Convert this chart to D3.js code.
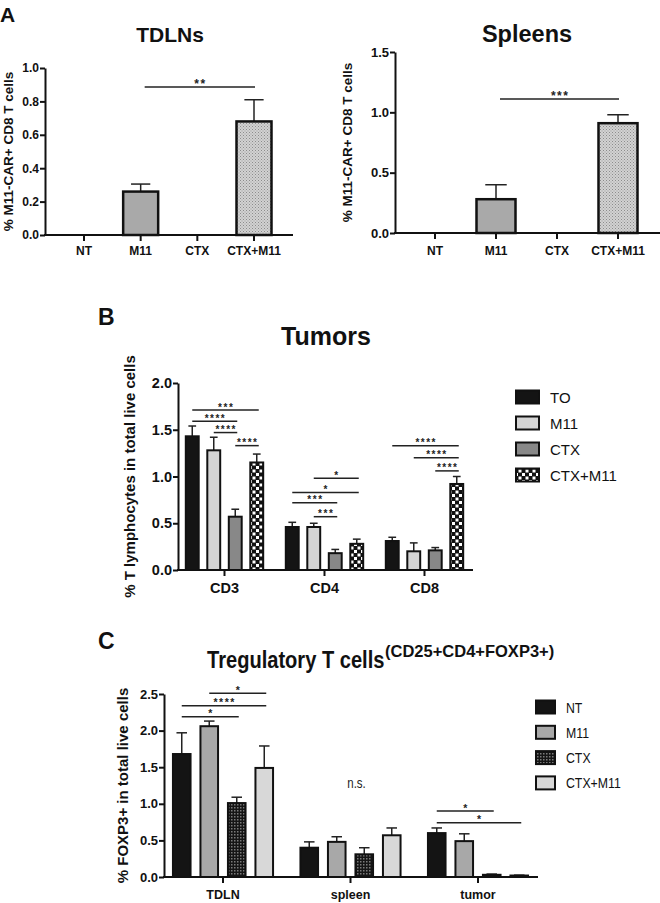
<!DOCTYPE html>
<html>
<head>
<meta charset="utf-8">
<script src="https://cdn.jsdelivr.net/npm/d3@7/dist/d3.min.js"></script>
<style>
  body { margin: 0; background: #fff; }
  svg { display: block; font-family: "Liberation Sans", Arial, sans-serif; }
  .axis path, .axis line { stroke: #111; stroke-width: 2px; }
  .axis text { font-weight: bold; fill: #111; }
</style>
</head>
<body>
<svg id="fig" width="660" height="903"></svg>
<script>
//////////////////////////////////////////////
// Data //////////////////////////////////////
//////////////////////////////////////////////

// panel A - CAR T cells in TDLNs and spleens
var groupsA = ["NT", "M11", "CTX", "CTX+M11"];
var tdlnMean = [0, 0.26, 0, 0.68];
var tdlnSem = [0, 0.045, 0, 0.13];
var spleenMean = [0, 0.28, 0, 0.91];
var spleenSem = [0, 0.12, 0, 0.07];
var ticksTdln = [0, 0.2, 0.4, 0.6, 0.8, 1.0];
var ticksSpleen = [0, 0.5, 1.0, 1.5];
// [from group, to group, height, label]
var sigTdln = [[1, 3, 0.886, "**"]];
var sigSpleen = [[1, 3, 1.11, "***"]];

// panel B - tumors
var catsB = ["CD3", "CD4", "CD8"];
var seriesB = ["TO", "M11", "CTX", "CTX+M11"];
var valuesB = [
  [1.43, 0.46, 0.31],   // TO
  [1.28, 0.46, 0.20],   // M11
  [0.57, 0.18, 0.21],   // CTX
  [1.15, 0.28, 0.92]    // CTX+M11
];
var semB = [
  [0.11, 0.05, 0.04],
  [0.14, 0.04, 0.09],
  [0.08, 0.04, 0.03],
  [0.09, 0.05, 0.08]
];
var ticksB = [0, 0.5, 1.0, 1.5, 2.0];
// [category, from series, to series, height, label]
var sigB = [
  [0, 0, 3, 1.71, "***"], [0, 0, 2, 1.59, "****"], [0, 1, 2, 1.47, "****"], [0, 2, 3, 1.33, "****"],
  [1, 1, 3, 0.98, "*"], [1, 0, 3, 0.83, "*"], [1, 0, 2, 0.72, "***"], [1, 1, 2, 0.57, "***"],
  [2, 0, 3, 1.33, "****"], [2, 1, 3, 1.20, "****"], [2, 2, 3, 1.06, "****"]
];

// panel C - Tregs
var catsC = ["TDLN", "spleen", "tumor"];
var seriesC = ["NT", "M11", "CTX", "CTX+M11"];
var valuesC = [
  [1.68, 0.40, 0.60],   // NT
  [2.06, 0.48, 0.49],   // M11
  [1.01, 0.31, 0.03],   // CTX
  [1.49, 0.57, 0.02]    // CTX+M11
];
var semC = [
  [0.29, 0.08, 0.07],
  [0.07, 0.07, 0.10],
  [0.08, 0.09, 0.01],
  [0.30, 0.10, 0.005]
];
var ticksC = [0, 0.5, 1.0, 1.5, 2.0, 2.5];
var sigC = [
  [0, 1, 3, 2.51, "*"], [0, 0, 3, 2.34, "****"], [0, 0, 2, 2.19, "*"],
  [2, 0, 2, 0.90, "*"], [2, 0, 3, 0.74, "*"]
];
var nsC = [1, 1.22, "n.s."];

//////////////////////////////////////////////
// Setup /////////////////////////////////////
//////////////////////////////////////////////
var svg = d3.select("#fig");
var fmt = d3.format(".1f");
var defs = svg.append("defs");

// fine dotted grey (A, CTX+M11)
var p1 = defs.append("pattern").attr("id", "dots").attr("patternUnits", "userSpaceOnUse")
  .attr("width", 3).attr("height", 3);
p1.append("rect").attr("width", 3).attr("height", 3).attr("fill", "#d2d2d2");
p1.append("rect").attr("width", 1).attr("height", 1).attr("fill", "#8c8c8c");
p1.append("rect").attr("x", 1.5).attr("y", 1.5).attr("width", 1).attr("height", 1).attr("fill", "#9a9a9a");

// checker (B, CTX+M11)
var p2 = defs.append("pattern").attr("id", "checker").attr("patternUnits", "userSpaceOnUse")
  .attr("width", 7).attr("height", 7);
p2.append("rect").attr("width", 7).attr("height", 7).attr("fill", "#111");
p2.append("rect").attr("x", 0.5).attr("y", 0.5).attr("width", 3).attr("height", 3).attr("fill", "#fff");
p2.append("rect").attr("x", 4).attr("y", 4).attr("width", 3).attr("height", 3).attr("fill", "#fff");

// dark dotted (C, CTX)
var p3 = defs.append("pattern").attr("id", "darkdots").attr("patternUnits", "userSpaceOnUse")
  .attr("width", 3).attr("height", 3);
p3.append("rect").attr("width", 3).attr("height", 3).attr("fill", "#151515");
p3.append("rect").attr("width", 1.5).attr("height", 1.5).attr("fill", "#7a7a7a");

var fillsA = ["#a9a9a9", "#a9a9a9", "#a9a9a9", "url(#dots)"];
var fillsB = ["#141414", "#d4d4d4", "#888888", "url(#checker)"];
var fillsC = ["#141414", "#a8a8a8", "url(#darkdots)", "#d8d8d8"];

//////////////////////////////////////////////
// Helpers ///////////////////////////////////
//////////////////////////////////////////////
// no narrow font installed, squeeze the glyphs horizontally instead
function narrow(sel, f) {
  sel.each(function() {
    var t = d3.select(this), x = +t.attr("x"), y = +t.attr("y");
    t.attr("x", 0).attr("y", 0)
      .attr("transform", "translate(" + x + "," + y + ") scale(" + f + ",1)");
  });
  return sel;
}

function yAxis(g, y, ticks, size) {
  var ax = g.append("g").attr("class", "axis")
    .attr("transform", "translate(" + y.axisX + ",0)")
    .call(d3.axisLeft(y).tickValues(ticks).tickFormat(fmt).tickSize(5).tickSizeOuter(0).tickPadding(1));
  ax.selectAll("text").style("font-size", size + "px");
  return ax;
}

function xAxis(g, x, y, xEnd, size, baseline) {
  var y0 = y(0);
  g.append("line").attr("x1", y.axisX - 1).attr("x2", xEnd).attr("y1", y0).attr("y2", y0)
    .attr("stroke", "#111").attr("stroke-width", 2);
  x.domain().forEach(function(d) {
    g.append("line").attr("x1", x(d)).attr("x2", x(d)).attr("y1", y0).attr("y2", y0 + 6)
      .attr("stroke", "#111").attr("stroke-width", 2);
    g.append("text").attr("x", x(d)).attr("y", baseline)
      .attr("text-anchor", "middle").attr("font-weight", "bold").attr("font-size", size)
      .attr("fill", "#111").text(d);
  });
}

function bar(g, cx, w, y, v, sem, fill, sw, capW) {
  if (v <= 0) return;
  var top = y(v), errTop = y(v + sem);
  g.append("line").attr("x1", cx).attr("x2", cx).attr("y1", top).attr("y2", errTop)
    .attr("stroke", "#222").attr("stroke-width", 1.5);
  g.append("line").attr("x1", cx - capW / 2).attr("x2", cx + capW / 2).attr("y1", errTop).attr("y2", errTop)
    .attr("stroke", "#222").attr("stroke-width", 1.5);
  g.append("rect").attr("x", cx - w / 2).attr("y", top)
    .attr("width", w).attr("height", y(0) - top)
    .attr("fill", fill).attr("stroke", "#111").attr("stroke-width", sw);
}

// stars kept small (they stack tightly), spaced out to keep their width
function bracket(g, xa, xb, yv, label, size) {
  g.append("line").attr("x1", xa).attr("x2", xb).attr("y1", yv).attr("y2", yv)
    .attr("stroke", "#222").attr("stroke-width", 1.5);
  g.append("text").attr("x", (xa + xb) / 2 + 0.7).attr("y", yv + 0.5).attr("text-anchor", "middle")
    .attr("font-size", size).attr("letter-spacing", 1.5).attr("font-weight", "bold")
    .attr("fill", "#222").text(label);
}

function yLabel(g, x, yc, text, size) {
  g.append("text")
    .attr("transform", "translate(" + x + "," + yc + ") rotate(-90)")
    .attr("text-anchor", "middle").attr("font-weight", "bold").attr("font-size", size)
    .attr("fill", "#111").text(text);
}

function label(g, x, y, text, size, anchor) {
  return g.append("text").attr("x", x).attr("y", y)
    .attr("text-anchor", anchor || "start").attr("font-weight", "bold")
    .attr("font-size", size).attr("fill", "#111").text(text);
}

//////////////////////////////////////////////
// Panel A ///////////////////////////////////
//////////////////////////////////////////////
function drawSimple(conf) {
  var g = svg.append("g");
  var y = d3.scaleLinear().domain([0, conf.max]).range([conf.y0, conf.y1]);
  y.axisX = conf.axisX;
  var x = d3.scalePoint().domain(groupsA).range(conf.xr);
  xAxis(g, x, y, conf.xEnd, 12, 255);
  conf.mean.forEach(function(v, i) {
    bar(g, x(groupsA[i]), conf.barW, y, v, conf.sem[i], fillsA[i], 2.5, conf.barW * 0.55);
  });
  yAxis(g, y, conf.ticks, conf.tickSize);
  conf.sig.forEach(function(s) {
    bracket(g, x(groupsA[s[0]]) + 4, x(groupsA[s[1]]) + 1, y(s[2]), s[3], 12);
  });
  label(g, conf.titleX, 42, conf.title, conf.titleSize, "middle");
  yLabel(g, conf.labelX, (conf.y0 + conf.y1) / 2, "% M11-CAR+ CD8 T cells", 13.5);
}

label(svg, 0, 22, "A", 21);

drawSimple({
  max: 1.0, y0: 235, y1: 68, axisX: 45, xr: [84, 254], xEnd: 293, barW: 35,
  mean: tdlnMean, sem: tdlnSem, ticks: ticksTdln, tickSize: 12, sig: sigTdln,
  title: "TDLNs", titleX: 170, titleSize: 21, labelX: 13
});

drawSimple({
  max: 1.5, y0: 233, y1: 52, axisX: 395, xr: [435, 618], xEnd: 662, barW: 39,
  mean: spleenMean, sem: spleenSem, ticks: ticksSpleen, tickSize: 13, sig: sigSpleen,
  title: "Spleens", titleX: 527, titleSize: 23.5, labelX: 352
});

//////////////////////////////////////////////
// Panel B / C (grouped) /////////////////////
//////////////////////////////////////////////
function drawGrouped(conf) {
  var g = svg.append("g");
  var y = d3.scaleLinear().domain([0, conf.max]).range([conf.y0, conf.y1]);
  y.axisX = conf.axisX;
  var x = d3.scalePoint().domain(conf.cats).range(conf.xr);
  var xs = d3.scaleBand().domain(conf.series).range([-conf.half, conf.half])
    .paddingInner(conf.pad).paddingOuter(conf.pad / 2);
  var bw = xs.bandwidth();
  function cx(c, s) { return x(conf.cats[c]) + xs(conf.series[s]) + bw / 2; }

  xAxis(g, x, y, conf.xEnd, conf.xSize, conf.xBase);
  conf.values.forEach(function(row, s) {
    row.forEach(function(v, c) {
      bar(g, cx(c, s), bw, y, v, conf.sem[s][c], conf.fills[s], 2, bw * 0.6);
    });
  });
  yAxis(g, y, conf.ticks, conf.tickSize);
  conf.sig.forEach(function(s) {
    bracket(g, cx(s[0], s[1]), cx(s[0], s[2]) + 2, y(s[3]), s[4], conf.starSize);
  });
  yLabel(g, conf.labelX, (conf.y0 + conf.y1) / 2, conf.yTitle, conf.labelSize);

  // legend
  conf.series.forEach(function(d, i) {
    var ly = conf.legY + i * conf.legStep;
    g.append("rect").attr("x", conf.legX).attr("y", ly - conf.legH / 2)
      .attr("width", conf.legW).attr("height", conf.legH)
      .attr("fill", conf.fills[i]).attr("stroke", "#111").attr("stroke-width", 2);
    var t = g.append("text")
      .attr("x", conf.legX + conf.legW + 11).attr("y", ly + 5.5)
      .attr("font-size", conf.legSize).attr("fill", "#111").text(d);
    if (conf.squeeze) narrow(t, conf.squeeze);
  });
  return {g: g, x: x, y: y};
}

label(svg, 98, 325, "B", 23);
label(svg, 326, 345, "Tumors", 25, "middle");

drawGrouped({
  cats: catsB, series: seriesB, values: valuesB, sem: semB, fills: fillsB,
  max: 2.0, y0: 570, y1: 383, axisX: 178, xr: [224.5, 424.5], half: 43, pad: 0.4,
  xEnd: 473, xSize: 14.5, xBase: 593, ticks: ticksB, tickSize: 14.5, sig: sigB, starSize: 10,
  yTitle: "% T lymphocytes in total live cells", labelX: 134.5, labelSize: 15,
  legX: 516, legY: 397, legStep: 26, legW: 23, legH: 13, legSize: 15
});

label(svg, 98, 649, "C", 23);
narrow(label(svg, 207, 668, "Tregulatory T cells", 24.5), 0.82);
label(svg, 385, 657, "(CD25+CD4+FOXP3+)", 16.5);

var pc = drawGrouped({
  cats: catsC, series: seriesC, values: valuesC, sem: semC, fills: fillsC,
  max: 2.5, y0: 877, y1: 694, axisX: 164, xr: [223, 478], half: 55, pad: 0.36,
  xEnd: 538, xSize: 12.5, xBase: 899, ticks: ticksC, tickSize: 13, sig: sigC, starSize: 10.5,
  yTitle: "% FOXP3+ in total live cells", labelX: 128, labelSize: 15,
  legX: 536, legY: 707, legStep: 25.3, legW: 19, legH: 13, legSize: 15, squeeze: 0.82
});

narrow(pc.g.append("text")
  .attr("x", pc.x(catsC[nsC[0]]) + 6).attr("y", pc.y(nsC[1]))
  .attr("text-anchor", "middle").attr("font-size", 14).attr("fill", "#222").text(nsC[2]), 0.82);
</script>
</body>
</html>
